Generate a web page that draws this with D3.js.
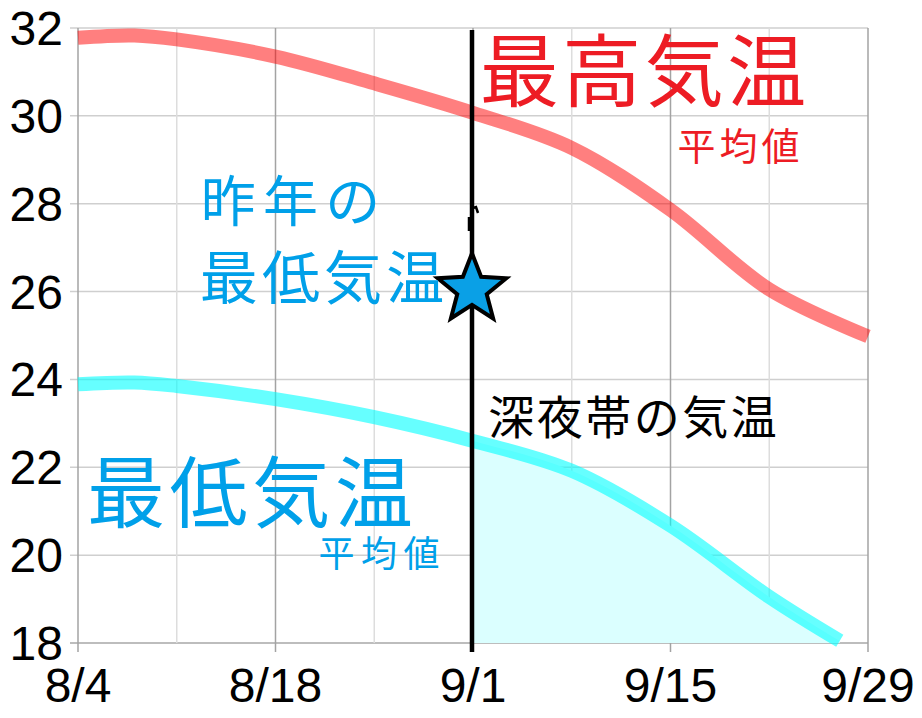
<!DOCTYPE html>
<html lang="ja">
<head>
<meta charset="UTF-8">
<title>最高気温・最低気温 平均値</title>
<script src="https://d3js.org/d3.v7.min.js"></script>
<style>
  body { margin: 0; background: #fff; }
  svg { display: block; }
  .num { font-family: 'Liberation Sans', Arial, sans-serif; font-size: 48px; fill: #000; }
  .jp { font-family: 'Noto Sans CJK JP', sans-serif; font-weight: 400; }
</style>
</head>
<body>
<svg width="922" height="718"></svg>
<script>
// data
var hiDates = ["8/4", "8/8", "8/11", "8/18", "8/25", "9/1", "9/8", "9/15", "9/22", "9/29"];
var hiTemps = [31.78, 31.83, 31.74, 31.35, 30.74, 30.07, 29.27, 27.86, 26.05, 24.98];

var loDates = ["8/4", "8/8", "8/11", "8/18", "8/25", "9/1", "9/8", "9/15", "9/22", "9/27"];
var loTemps = [23.89, 23.93, 23.85, 23.55, 23.14, 22.6, 21.92, 20.67, 19.05, 18.05];

var nightStart = "9/1";          // start of the shaded night period
var lastYearMin = 26.05;         // star: last year's minimum on 9/1

var xTickLabels = ["8/4", "8/18", "9/1", "9/15", "9/29"];
var xMinorDates = ["8/11", "8/25", "9/8", "9/22"];
var yTicks = [18, 20, 22, 24, 26, 28, 30, 32];

var svg = d3.select("svg");
var parse = d3.timeParse("%Y/%m/%d");
function day(s) { return parse("2023/" + s); }

var x = d3.scaleTime().domain([day("8/4"), day("9/29")]).range([78, 868]);
var y = d3.scaleLinear().domain([18, 32]).range([643, 28]);

// grid
svg.append("g").selectAll("line").data(yTicks).enter().append("line")
    .attr("x1", 70).attr("x2", 868)
    .attr("y1", function(d) { return y(d); }).attr("y2", function(d) { return y(d); })
    .attr("stroke", function(d) { return d === 18 ? "#bdbdbd" : "#cfcfcf"; })
    .attr("stroke-width", function(d) { return d === 18 ? 2 : 1.5; });

svg.append("g").selectAll("line").data(xMinorDates).enter().append("line")
    .attr("x1", function(d) { return x(day(d)); }).attr("x2", function(d) { return x(day(d)); })
    .attr("y1", 28).attr("y2", 643)
    .attr("stroke", "#dddddd").attr("stroke-width", 1.5);

svg.append("g").selectAll("line").data(xTickLabels).enter().append("line")
    .attr("x1", function(d) { return x(day(d)); }).attr("x2", function(d) { return x(day(d)); })
    .attr("y1", 28).attr("y2", 652)
    .attr("stroke", "#a3a3a3").attr("stroke-width", 1.5);

// axis labels
svg.append("g").selectAll("text").data(yTicks).enter().append("text")
    .attr("class", "num")
    .attr("x", 63).attr("y", function(d) { return y(d) + 17; })
    .attr("text-anchor", "end")
    .text(function(d) { return d; });

svg.append("g").selectAll("text").data(xTickLabels).enter().append("text")
    .attr("class", "num")
    .attr("x", function(d) { return x(day(d)); }).attr("y", 702)
    .attr("text-anchor", "middle")
    .text(function(d) { return d; });

// shaded night area under the min line
var lo = loDates.map(function(d, i) { return { date: day(d), t: loTemps[i] }; });
var hi = hiDates.map(function(d, i) { return { date: day(d), t: hiTemps[i] }; });

var curve = d3.curveCatmullRom.alpha(0.5);

var area = d3.area()
    .x(function(d) { return x(d.date); })
    .y0(y(18))
    .y1(function(d) { return y(d.t); })
    .curve(curve);

svg.append("clipPath").attr("id", "night")
    .append("rect")
    .attr("x", x(day(nightStart))).attr("y", 0)
    .attr("width", 922).attr("height", 718);

svg.append("path")
    .datum(lo)
    .attr("d", area)
    .attr("clip-path", "url(#night)")
    .attr("fill", "#dbffff");

var line = d3.line()
    .x(function(d) { return x(d.date); })
    .y(function(d) { return y(d.t); })
    .curve(curve);

svg.append("path").datum(hi).attr("d", line)
    .attr("fill", "none").attr("stroke", "#ff0000").attr("stroke-opacity", 0.5)
    .attr("stroke-width", 14);

svg.append("path").datum(lo).attr("d", line)
    .attr("fill", "none").attr("stroke", "#00ffff").attr("stroke-opacity", 0.6)
    .attr("stroke-width", 14);

// vertical marker at 9/1
var xm = x(day(nightStart)) - 1;
svg.append("line")
    .attr("x1", xm).attr("x2", xm).attr("y1", 30).attr("y2", 652)
    .attr("stroke", "#000").attr("stroke-width", 4.5);

svg.append("path")
    .attr("d", "M" + (xm - 3) + ",231 L" + (xm - 3) + ",217 M" + (xm + 1) + ",208 L" + (xm + 4) + ",207 L" + (xm + 6) + ",213")
    .attr("fill", "none").attr("stroke", "#000").attr("stroke-width", 2.5);

// star: last year's minimum
var R = 36, r = 15.5, cx = xm, cy = y(lastYearMin);
var pts = d3.range(10).map(function(i) {
    var a = -Math.PI / 2 + i * Math.PI / 5, rr = i % 2 ? r : R;
    return [cx + rr * Math.cos(a), cy + rr * Math.sin(a)];
});
svg.append("path")
    .attr("d", "M" + pts.join("L") + "Z")
    .attr("fill", "#0aa0e6").attr("stroke", "#000").attr("stroke-width", 4)
    .attr("stroke-linejoin", "miter");

// labels (ink extents x0..x1 matched to the picture)
function label(txt, x0, x1, base, size, color) {
    svg.append("text")
        .attr("class", "jp")
        .attr("x", x0 - 0.04 * size).attr("y", base)
        .attr("font-size", size)
        .attr("fill", color)
        .attr("textLength", (x1 - x0) + 0.08 * size)
        .attr("lengthAdjust", "spacing")
        .text(txt);
}
label("最高気温", 483, 803, 101, 79, "#ed1c24");
label("平均値", 679, 798, 160, 38, "#ed1c24");
label("昨年の", 203, 378, 221, 55, "#00a0e9");
label("最低気温", 202, 442, 299, 58, "#00a0e9");
label("最低気温", 90, 410, 522, 78, "#00a0e9");
label("平均値", 320, 438, 567, 36, "#00a0e9");
label("深夜帯の気温", 490, 775, 434, 46, "#000");
</script>
</body>
</html>
